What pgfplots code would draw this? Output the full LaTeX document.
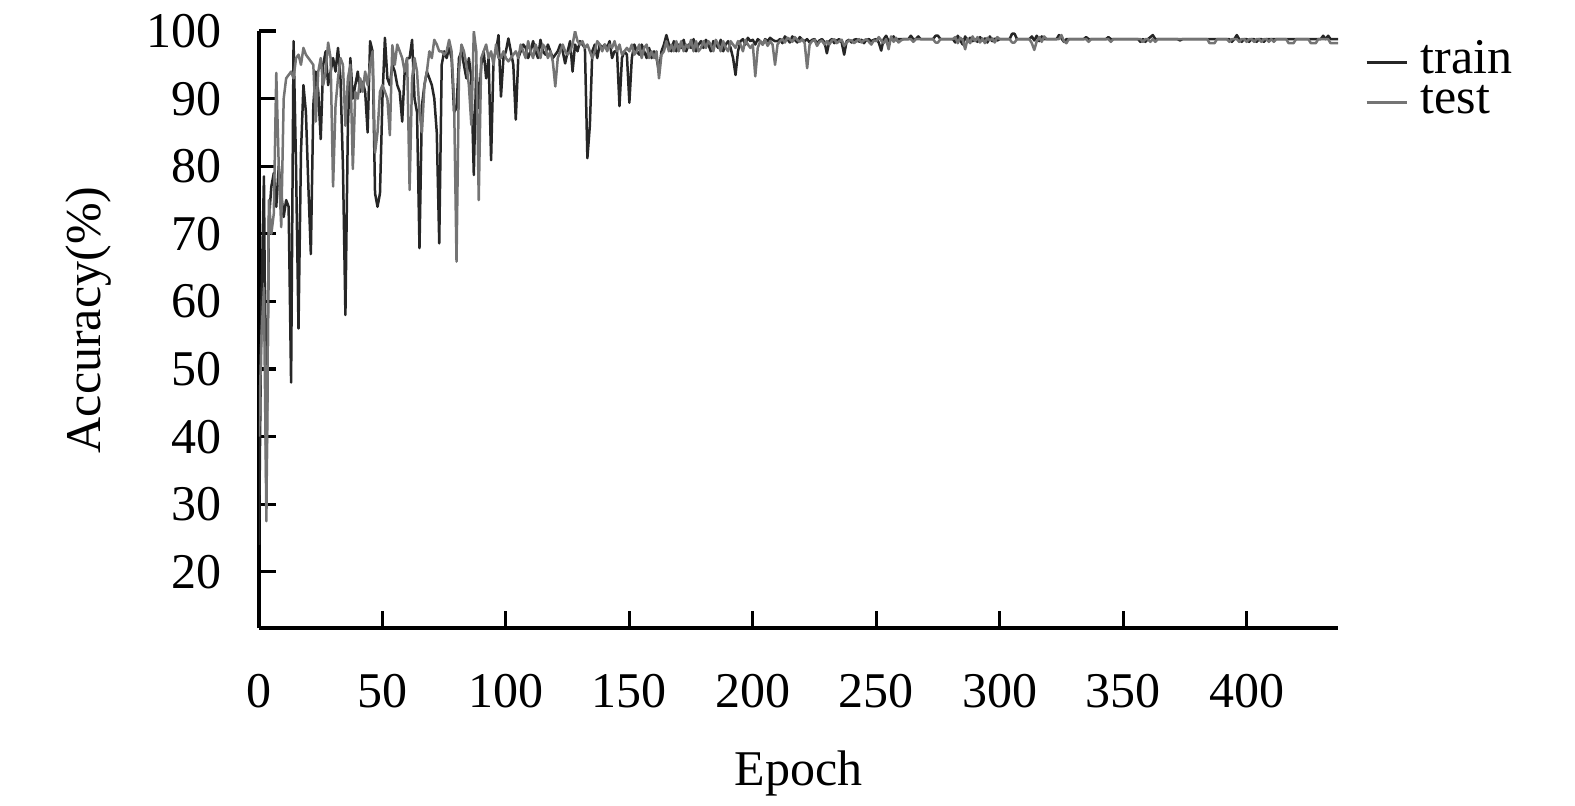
\documentclass[border=0pt]{standalone}
\usepackage{pgfplots}
\usepackage{pgfplotstable}
\pgfplotsset{compat=1.18}
\usepackage{fontspec}
\setmainfont{Liberation Serif}
\definecolor{trainc}{HTML}{262626}
\definecolor{testc}{HTML}{747474}

% train accuracy, epochs 0..437
\pgfplotstableread[header=false,row sep=\\]{
24\\60\\78.5\\31\\72\\77\\79\\74\\80\\76\\
72.5\\75\\74\\48\\98.5\\80\\56\\82\\92\\88\\
77\\67\\89\\94\\91\\84\\95\\97\\92\\94\\
96\\94\\97.5\\93\\80\\58\\86\\96\\90\\92\\
94\\91\\92.5\\91\\85\\98.5\\97\\76\\74\\76\\
90\\99\\93\\92\\95\\94\\92\\91\\86.6\\94\\
96\\96\\98.7\\90\\88\\67.9\\89\\92\\94\\93\\
92\\90\\85\\68.6\\95\\97\\96\\97.5\\96\\88\\
88.6\\96\\97\\95\\93\\96\\93\\78.7\\95\\88.6\\
95\\97\\93\\96\\80.9\\96\\97\\99.4\\90.3\\96\\
97\\98.9\\97\\95\\86.9\\96\\97\\98\\97.5\\96\\
97\\98.5\\97\\96\\98.7\\97\\96.5\\98\\97\\96\\
96.5\\97\\98\\97\\95.2\\97\\98.5\\94\\98\\97\\
98.5\\98\\97.5\\81.2\\86\\97\\98\\96\\98\\97.5\\
98\\97.5\\98.5\\96\\97\\97\\88.9\\96\\97\\96.5\\
89.4\\96\\98\\97\\96.5\\98\\97\\96\\97.5\\96\\
97\\96\\94\\97\\98\\99.4\\98\\97\\98.5\\97\\
98\\97.5\\98.7\\97\\98\\97.5\\98.8\\97\\98\\98.5\\
97.5\\98.7\\98\\97\\98.5\\98\\97.5\\98.7\\97\\98\\
98.5\\97.5\\96\\93.5\\97\\98.5\\98.8\\98\\99\\98.5\\
98.7\\98\\98.8\\98.5\\98\\98.8\\98.5\\99\\98.7\\98.5\\
98.5\\98.8\\98.2\\99.2\\98.8\\98.3\\99.2\\98.7\\98.3\\99.1\\
98.7\\98.5\\98.8\\98.3\\98.7\\98.8\\98.2\\98.6\\98.8\\98.4\\
96.7\\98.5\\98.8\\98.2\\98.6\\98.8\\98.3\\96.5\\98.5\\98.7\\
98.3\\98.7\\98.8\\98.4\\98.7\\98.2\\98.7\\98.8\\98.5\\98.7\\
98.8\\98.3\\97.1\\98.8\\99.3\\98.5\\98.8\\99.2\\98.6\\98.8\\
98.8\\98.8\\98.8\\98.8\\99.3\\98.8\\98.8\\99.2\\98.8\\98.8\\
98.8\\98.8\\98.8\\98.8\\99.3\\99.3\\98.8\\98.8\\98.8\\98.8\\
98.8\\98.8\\98.3\\99.3\\98.6\\98\\99.2\\98.4\\99\\98.5\\
98.8\\98.4\\99.1\\98.6\\98.9\\98.3\\99.2\\98.5\\98.9\\98.6\\
98.8\\98.8\\98.8\\98.8\\98.8\\99.6\\99.6\\98.8\\98.8\\98.8\\
98.8\\98.8\\98.8\\99.2\\98.6\\99.3\\98.5\\99.2\\98.8\\98.8\\
98.8\\98.8\\98.8\\98.8\\99.4\\98.9\\98.4\\98.8\\98.8\\98.8\\
98.8\\98.8\\98.8\\98.8\\98.8\\99.1\\98.8\\98.8\\98.8\\98.8\\
98.8\\98.8\\98.8\\98.8\\99.1\\98.8\\98.8\\98.8\\98.8\\98.8\\
98.8\\98.8\\98.8\\98.8\\98.8\\98.8\\98.8\\98.4\\98.8\\98.4\\
98.8\\99.1\\99.4\\98.8\\98.8\\98.8\\98.8\\98.8\\98.8\\98.8\\
98.8\\98.8\\98.8\\98.6\\98.8\\98.8\\98.8\\98.8\\98.8\\98.8\\
98.8\\98.8\\98.8\\98.8\\98.8\\98.8\\98.8\\98.8\\98.8\\98.8\\
98.8\\98.8\\98.8\\98.8\\98.4\\98.8\\99.4\\98.8\\98.4\\98.8\\
98.8\\98.4\\98.8\\98.8\\98.4\\98.8\\98.8\\98.4\\98.8\\98.8\\
98.8\\98.8\\98.8\\98.8\\98.8\\98.8\\98.8\\98.8\\98.8\\98.8\\
98.8\\98.8\\98.8\\98.8\\98.8\\98.8\\98.8\\98.8\\98.8\\98.8\\
98.8\\99.3\\98.8\\99.3\\98.8\\98.8\\98.8\\98.8\\
}\traindata

% test accuracy, epochs 0..437
\pgfplotstableread[header=false,row sep=\\]{
40\\55\\62\\27.5\\75\\70\\73\\93.8\\80\\71\\
90\\93\\93.5\\94\\93\\96\\96.5\\95\\97.5\\96.5\\
96\\95.5\\95\\86.6\\94\\96\\92\\94\\98.3\\96\\
77\\89\\93\\96\\95\\86\\93\\95\\79.6\\91\\
90\\93\\91\\94\\92\\95\\97\\82\\85\\91\\
92\\91\\90\\84.6\\97.9\\95\\98\\97\\96\\94\\
96\\76.5\\93\\96\\94\\88\\85\\92\\94\\97\\
96\\98.7\\98\\97\\97\\96.5\\97\\98.7\\97\\90\\
65.9\\94\\98\\97\\95\\92\\86.1\\100\\97\\75\\
96\\97\\98\\96\\97\\95\\98\\96\\96\\97\\
96\\95.5\\96\\96.5\\97\\96\\98\\97\\96\\98.5\\
97\\96\\98\\97\\96\\98\\97.5\\96\\97\\95.5\\
91.8\\96\\97\\98\\97\\96.5\\97\\98\\100\\98.5\\
98\\98.5\\97.5\\98\\97\\96\\97\\98.5\\98\\97\\
98\\97\\98\\97.5\\98.5\\97\\98\\96.5\\97\\97.5\\
97\\98\\96.5\\97\\98\\96\\97.5\\98\\96\\97\\
96\\97\\93\\96.5\\97\\98.5\\97\\98\\97\\98.5\\
97\\98.5\\97\\98\\97.5\\98.7\\97\\98.5\\97\\97.5\\
98.5\\97.5\\98.5\\98\\97\\98.7\\98\\97\\98.5\\97.5\\
97\\98.5\\98\\97.5\\98.5\\98\\97\\98.7\\98\\97.5\\
98\\93.3\\97.5\\98.5\\98\\98.7\\97.8\\98.5\\98\\95\\
98\\98.5\\98.8\\98.3\\99\\98.8\\98.4\\99.1\\98.7\\98.4\\
98.8\\98.2\\94.5\\98\\98.5\\98.7\\97.8\\98.4\\98.6\\98\\
98.5\\98\\98.6\\98.8\\98.2\\98.5\\98.7\\97.8\\98.3\\98.6\\
98.6\\98.2\\98.5\\98.8\\98.3\\98.6\\98.8\\98.4\\98\\98.6\\
98.5\\99.1\\98.6\\98.2\\98.8\\97.3\\99.2\\98.4\\99\\98.3\\
98.6\\98.8\\98.8\\98.8\\98.8\\98.4\\98.8\\98.8\\98.8\\98.8\\
98.8\\98.8\\98.8\\98.8\\98.3\\98.3\\98.8\\98.8\\98.8\\98.8\\
98.8\\98.8\\99.1\\98.2\\99\\98.7\\97.3\\98.9\\98.2\\99.2\\
98.5\\99.1\\98.3\\98.9\\98.2\\99\\98.6\\98.9\\98.3\\99.1\\
98.8\\98.8\\98.8\\98.8\\98.8\\98.3\\98.3\\98.8\\98.8\\98.8\\
98.8\\98.8\\98.8\\98.2\\97.2\\98.5\\99.1\\98.4\\99.2\\98.8\\
98.8\\98.8\\98.8\\98.8\\98.8\\99.4\\98.5\\98.2\\98.8\\98.8\\
98.8\\98.8\\98.8\\98.8\\98.8\\98.8\\98.4\\98.8\\98.8\\98.8\\
98.8\\98.8\\98.8\\98.8\\98.8\\98.4\\98.8\\98.8\\98.8\\98.8\\
98.8\\98.8\\98.8\\98.8\\98.8\\98.8\\98.8\\98.8\\98.4\\98.8\\
98.8\\98.4\\98.8\\98.4\\98.8\\98.8\\98.8\\98.8\\98.8\\98.8\\
98.8\\98.8\\98.8\\98.8\\98.8\\98.8\\98.8\\98.8\\98.8\\98.8\\
98.8\\98.8\\98.8\\98.8\\98.8\\98.2\\98.2\\98.2\\98.8\\98.8\\
98.8\\98.8\\98.8\\98.4\\98.8\\98.8\\98.8\\98.4\\98.8\\98.8\\
98.4\\98.8\\98.8\\98.4\\98.8\\98.8\\98.4\\98.8\\98.8\\98.4\\
98.8\\98.4\\98.8\\98.8\\98.8\\98.8\\98.8\\98.2\\98.2\\98.2\\
98.8\\98.8\\98.8\\98.8\\98.8\\98.8\\98.2\\98.2\\98.2\\98.8\\
98.8\\98.8\\98.8\\98.8\\98.2\\98.2\\98.2\\98.2\\
}\testdata

\begin{document}
\begin{tikzpicture}
\begin{axis}[
  name=ax,
  scale only axis,
  width=258.96pt, height=143.28pt,
  xmin=0, xmax=437, ymin=11.7, ymax=100,
  axis x line*=bottom, axis y line*=left,
  axis line style={line width=0.75pt, black},
  every tick/.style={line width=0.75pt, black},
  tick align=inside,
  major tick length=4.1pt,
  xtick={0,50,...,400},
  ytick={20,30,...,100},
  /pgf/number format/assume math mode=true,
  tick label style={font=\fontsize{12}{14}\selectfont},
  xticklabel style={yshift=-7.6pt},
  yticklabel style={xshift=-5.5pt},
  label style={font=\fontsize{12}{14}\selectfont},
  xlabel={Epoch},
  xlabel style={at={(axis description cs:0.5,0)}, anchor=north, yshift=-26pt},
  ylabel={Accuracy(\%)},
  ylabel style={at={(axis description cs:-0.1580,0.516)}, anchor=center, rotate=0},
  legend style={draw=none, fill=none, inner sep=0pt, outer sep=0pt,
    at={(axis description cs:1.0251,0.985)}, anchor=north west,
    font=\fontsize{12}{14}\selectfont, row sep=0pt,
    nodes={inner sep=0pt, text height=8pt, text depth=1.7pt}},
  legend cell align=left,
  legend image code/.code={\draw[#1, line width=0.75pt] (0pt,-0.5pt) -- (9.6pt,-0.5pt); \path (12.7pt,-0.5pt);},
  line join=round,
]
\addplot[trainc, line width=0.6pt] table[x expr=\coordindex, y index=0] {\traindata};
\addlegendentry{train}
\addplot[testc, line width=0.6pt] table[x expr=\coordindex, y index=0] {\testdata};
\addlegendentry{test}
\end{axis}
\pgfresetboundingbox
\useasboundingbox ([xshift=-62.16pt,yshift=-42.48pt]ax.south west) rectangle ([xshift=56.88pt,yshift=7.44pt]ax.north east);
\end{tikzpicture}
\end{document}
